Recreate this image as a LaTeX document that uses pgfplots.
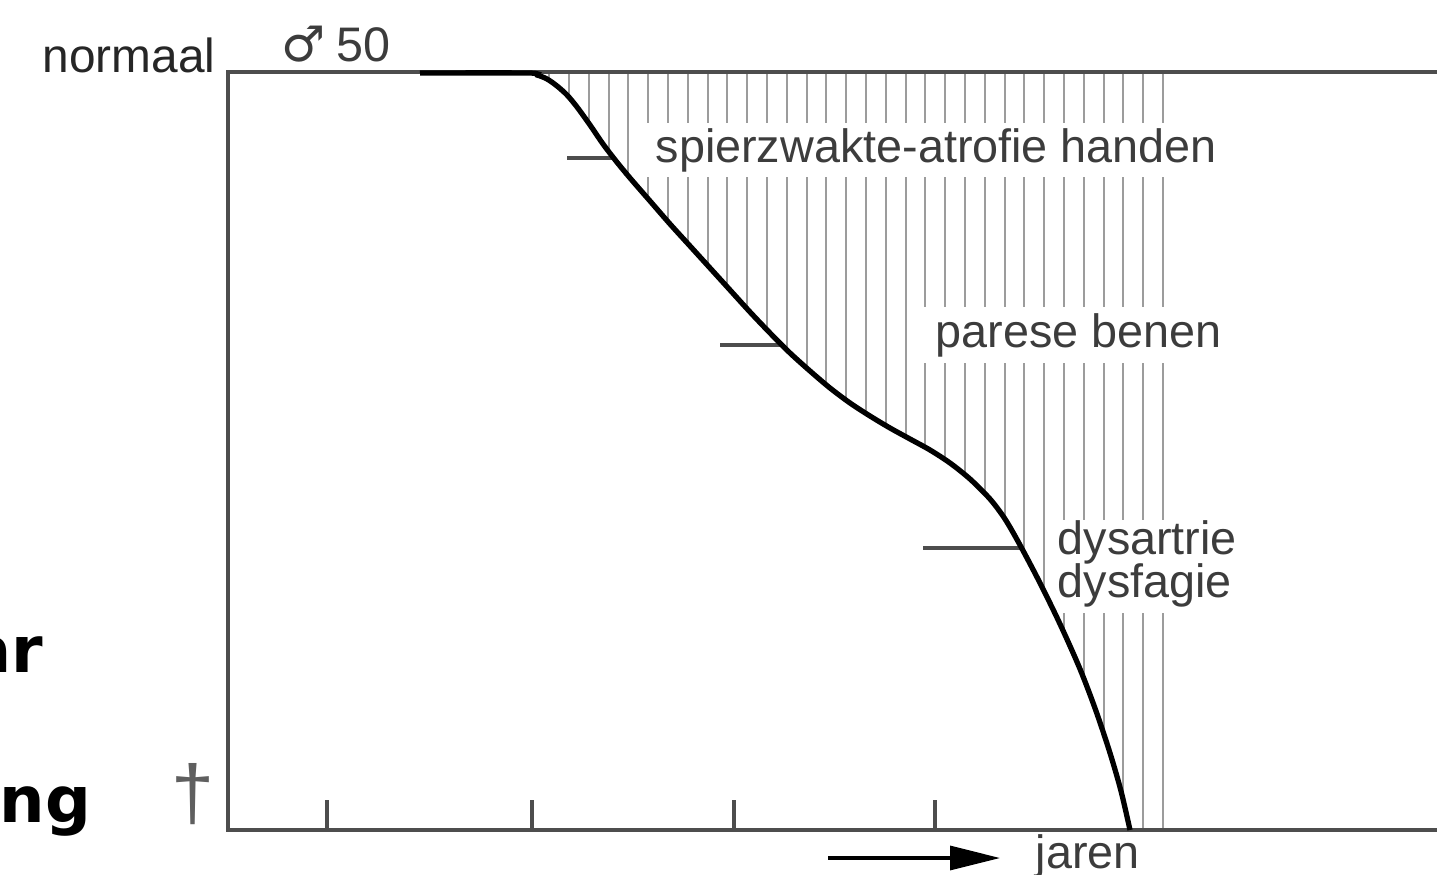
\documentclass[border=0pt]{standalone}
\usepackage{pgfplots}
\pgfplotsset{compat=1.18}
\usepackage{pgfplotstable}
\usetikzlibrary{arrows.meta}
\usepackage{fontspec}
\setmainfont{Liberation Sans}
\newfontfamily\dejavu{DejaVu Sans}
\definecolor{axgray}{HTML}{4D4D4D}
\definecolor{hatch}{HTML}{9C9C9C}
\definecolor{txt}{HTML}{3C3C3C}

% Curve (x in pixels, y in pixels from top)
\pgfplotstableread{
x y
420 73
527 73
537 75
547 79
557 86
567 95
577 107
590 125
603 144
616 161
630 178
650 201
670 224
690 246
710 268
730 290
750 312
770 333
790 353
810 371
830 388
850 403
870 416
890 428
910 439
930 450
950 463
970 479
990 499
1005 519
1020 545
1040 583
1060 624
1080 669
1096 711
1110 753
1121 791
1130 830
}\curve

% Hatch segments (vertical lines between curve and top, gaps behind labels)
\pgfplotstableread{
x y
549 80
549 72
nan nan
569 97
569 72
nan nan
589 124
589 72
nan nan
609 152
609 72
nan nan
628 176
628 72
nan nan
648 199
648 177
nan nan
648 123
648 72
nan nan
668 222
668 177
nan nan
668 123
668 72
nan nan
688 244
688 177
nan nan
688 123
688 72
nan nan
708 266
708 177
nan nan
708 123
708 72
nan nan
727 287
727 177
nan nan
727 123
727 72
nan nan
747 309
747 177
nan nan
747 123
747 72
nan nan
767 330
767 177
nan nan
767 123
767 72
nan nan
787 350
787 177
nan nan
787 123
787 72
nan nan
807 368
807 177
nan nan
807 123
807 72
nan nan
826 385
826 177
nan nan
826 123
826 72
nan nan
846 400
846 177
nan nan
846 123
846 72
nan nan
866 413
866 177
nan nan
866 123
866 72
nan nan
886 426
886 177
nan nan
886 123
886 72
nan nan
906 437
906 177
nan nan
906 123
906 72
nan nan
925 447
925 363
nan nan
925 307
925 177
nan nan
925 123
925 72
nan nan
945 460
945 363
nan nan
945 307
945 177
nan nan
945 123
945 72
nan nan
965 475
965 363
nan nan
965 307
965 177
nan nan
965 123
965 72
nan nan
985 494
985 363
nan nan
985 307
985 177
nan nan
985 123
985 72
nan nan
1005 519
1005 363
nan nan
1005 307
1005 177
nan nan
1005 123
1005 72
nan nan
1024 553
1024 363
nan nan
1024 307
1024 177
nan nan
1024 123
1024 72
nan nan
1044 591
1044 363
nan nan
1044 307
1044 177
nan nan
1044 123
1044 72
nan nan
1064 633
1064 613
nan nan
1064 520
1064 363
nan nan
1064 307
1064 177
nan nan
1064 123
1064 72
nan nan
1084 680
1084 613
nan nan
1084 520
1084 363
nan nan
1084 307
1084 177
nan nan
1084 123
1084 72
nan nan
1104 735
1104 613
nan nan
1104 520
1104 363
nan nan
1104 307
1104 177
nan nan
1104 123
1104 72
nan nan
1123 800
1123 613
nan nan
1123 520
1123 363
nan nan
1123 307
1123 177
nan nan
1123 123
1123 72
nan nan
1143 830
1143 613
nan nan
1143 520
1143 363
nan nan
1143 307
1143 177
nan nan
1143 123
1143 72
nan nan
1163 830
1163 613
nan nan
1163 520
1163 363
nan nan
1163 307
1163 177
nan nan
1163 123
1163 72
}\hatchlines

\begin{document}
\begin{tikzpicture}
\begin{axis}[
  at={(0,0)}, anchor=south west,
  scale only axis, width=14.37cm, height=8.75cm,
  xmin=0, xmax=1437, ymin=0, ymax=875,
  y dir=reverse,
  hide axis, clip=false,
  unbounded coords=jump,
]
% hatch
\addplot[hatch, line width=0.8pt, no marks] table[x=x,y=y] {\hatchlines};
% frame (open on the right)
\addplot[axgray, line width=1.15pt, no marks] coordinates {(1437,72) (228,72) (228,830) (1437,830)};
% ticks on the time axis
\addplot[axgray, line width=1pt, no marks] coordinates {(327,830) (327,800) (nan,nan) (532,830) (532,800) (nan,nan) (734,830) (734,800) (nan,nan) (935,830) (935,800)};
% onset markers
\addplot[axgray, line width=1pt, no marks] coordinates {(567,158) (613,158) (nan,nan) (720,345) (780,345) (nan,nan) (923,548) (1022,548)};
% course of the disease
\addplot[black, line width=1.5pt, no marks, smooth] table[x=x,y=y] {\curve};

% texts
\node[anchor=base west, inner sep=0, text=black!85, font=\fontsize{13.6}{16}\selectfont] at (42,73) {normaal};
\node[anchor=base west, inner sep=0, text=txt, font=\dejavu\fontsize{14}{16}\selectfont] at (281,62) {♂};
\node[anchor=base west, inner sep=0, text=txt, font=\fontsize{13.8}{16}\selectfont] at (336,62) {50};
\node[anchor=base west, inner sep=0, text=txt, font=\fontsize{13.3}{16}\selectfont] at (655,163) {spierzwakte-atrofie handen};
\node[anchor=base west, inner sep=0, text=txt, font=\fontsize{13.3}{16}\selectfont] at (935,348) {parese benen};
\node[anchor=base west, inner sep=0, text=txt, font=\fontsize{13.3}{16}\selectfont] at (1057,555) {dysartrie};
\node[anchor=base west, inner sep=0, text=txt, font=\fontsize{13.3}{16}\selectfont] at (1057,598) {dysfagie};
\node[anchor=base west, inner sep=0, text=txt, font=\fontsize{13.3}{16}\selectfont] at (1035,868) {jaren};
\node[anchor=center, inner sep=0, text=axgray!90, font=\fontsize{22}{24}\selectfont] at (193,794) {†};
\draw[black, line width=0.9pt, -{Triangle[length=5mm,width=2.4mm]}] (828,858) -- (1000,858);
% fragments of surrounding text, cut by the page edge
\node[anchor=base east, inner sep=0, text=black, font=\dejavu\bfseries\fontsize{18.2}{22}\selectfont] at (44,672) {ar};
\node[anchor=base east, inner sep=0, text=black, font=\dejavu\bfseries\fontsize{18.2}{22}\selectfont] at (92,822) {ng};
\end{axis}
\pgfresetboundingbox
\path[use as bounding box] (current axis.south west) rectangle (current axis.north east);
\end{tikzpicture}
\end{document}
